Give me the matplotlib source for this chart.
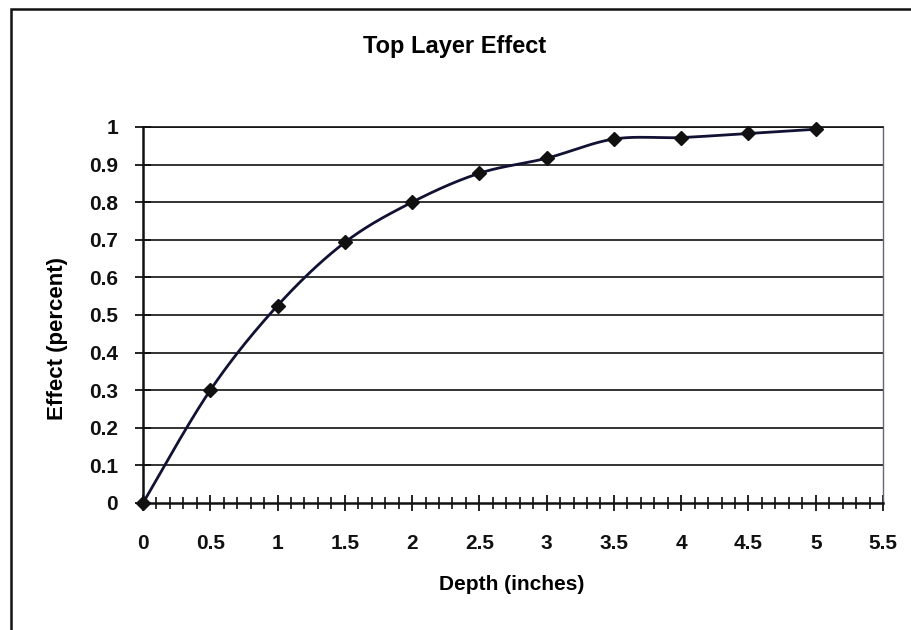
import numpy as np
import matplotlib
matplotlib.use("Agg")
import matplotlib.pyplot as plt
from matplotlib.patches import Rectangle
from matplotlib.ticker import MultipleLocator

depth = [0, 0.5, 1, 1.5, 2, 2.5, 3, 3.5, 4, 4.5, 5]
effect = [0.0, 0.30, 0.525, 0.693, 0.80, 0.877, 0.917, 0.968, 0.972, 0.983, 0.994]
x_ticks = [0, 0.5, 1, 1.5, 2, 2.5, 3, 3.5, 4, 4.5, 5, 5.5]
y_ticks = [0, 0.1, 0.2, 0.3, 0.4, 0.5, 0.6, 0.7, 0.8, 0.9, 1]

plt.rcParams["font.family"] = ["Liberation Sans", "DejaVu Sans"]
plt.rcParams["font.weight"] = "bold"

W, H = 912, 630


def smooth_curve(xs, ys, steps=30):
    """Cubic Bezier through each point, control points from neighbours (Catmull-Rom style)."""
    xs = np.asarray(xs, float)
    ys = np.asarray(ys, float)
    px = np.concatenate([[xs[0]], xs, [xs[-1]]])
    py = np.concatenate([[ys[0]], ys, [ys[-1]]])
    out_x, out_y = [], []
    t = np.linspace(0, 1, steps)
    for i in range(1, len(px) - 2):
        p0 = np.array([px[i], py[i]])
        p3 = np.array([px[i + 1], py[i + 1]])
        c1 = p0 + (np.array([px[i + 1], py[i + 1]]) - np.array([px[i - 1], py[i - 1]])) / 6
        c2 = p3 - (np.array([px[i + 2], py[i + 2]]) - np.array([px[i], py[i]])) / 6
        b = ((1 - t) ** 3)[:, None] * p0 + (3 * (1 - t) ** 2 * t)[:, None] * c1 \
            + (3 * (1 - t) * t ** 2)[:, None] * c2 + (t ** 3)[:, None] * p3
        out_x.extend(b[:, 0])
        out_y.extend(b[:, 1])
    return np.array(out_x), np.array(out_y)


fig = plt.figure(figsize=(W / 100, H / 100), dpi=100)
fig.patch.set_facecolor("white")

# chart frame
fig.patches.append(Rectangle((11 / W, -0.05), 1.1, 1 - 9 / H + 0.05,
                             transform=fig.transFigure, fill=False,
                             edgecolor="#111111", linewidth=1.8))

ax = fig.add_axes([143 / W, 1 - 503 / H, 740 / W, 376 / H])
ax.set_xlim(0, 5.5)
ax.set_ylim(0, 1)

for y in y_ticks[1:]:
    ax.axhline(y, color="#111111", linewidth=1.2, zorder=1)

sx, sy = smooth_curve(depth, effect)
ax.plot(sx, sy, color="#111133", linewidth=2.0, zorder=3, clip_on=False)
ax.plot(depth, effect, linestyle="none", marker="D", markersize=7.5,
        color="#111111", zorder=4, clip_on=False)

ax.set_xticks(x_ticks)
ax.set_xticklabels([f"{v:g}" for v in x_ticks])
ax.xaxis.set_minor_locator(MultipleLocator(0.1))
ax.set_yticks(y_ticks)
ax.set_yticklabels([f"{v:g}" for v in y_ticks])

ax.tick_params(axis="x", which="major", direction="inout", length=12, width=1.3,
               labelsize=15, pad=16, colors="#111111")
ax.tick_params(axis="x", which="minor", direction="inout", length=9, width=1.2,
               colors="#111111")
ax.tick_params(axis="y", which="major", direction="inout", length=12, width=1.3,
               labelsize=15, pad=12, colors="#111111")

for side in ("left", "bottom"):
    ax.spines[side].set_color("#111111")
    ax.spines[side].set_linewidth(1.8)
ax.spines["top"].set_color("#111111")
ax.spines["top"].set_linewidth(1.2)
ax.spines["right"].set_color("#6a6478")
ax.spines["right"].set_linewidth(1.0)

fig.text(512 / W, 1 - 584 / H, "Depth (inches)", ha="center", va="center",
         fontsize=15, fontweight="bold")
fig.text(58 / W, 1 - 338 / H, "Effect (percent)", ha="center", va="center",
         rotation=90, fontsize=16, fontweight="bold")
fig.text(455 / W, 1 - 47 / H, "Top Layer Effect", ha="center", va="center",
         fontsize=17, fontweight="bold")

fig.savefig("out.png", dpi=100, facecolor="white")
